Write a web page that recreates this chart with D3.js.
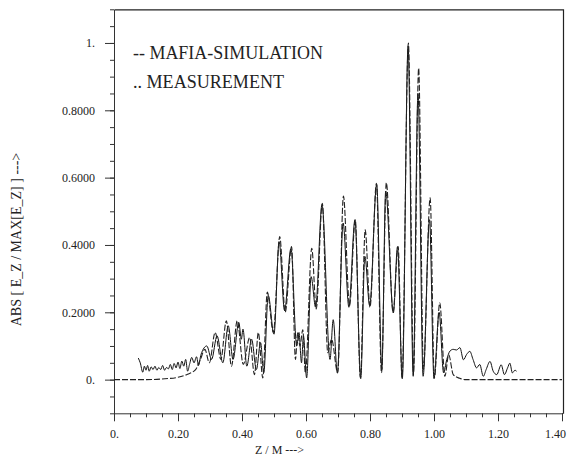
<!DOCTYPE html>
<html><head><meta charset="utf-8">
<script src="https://cdn.jsdelivr.net/npm/d3@7"></script>
<style>
html,body{margin:0;padding:0;background:#fff;}
svg{display:block;}
text{font-family:"Liberation Serif","Times New Roman",serif;fill:#222;}
</style></head>
<body><svg id="c" width="572" height="456"></svg>
<script>
// ---- data ----
const xMajor = [0, 0.2, 0.4, 0.6, 0.8, 1.0, 1.2, 1.4];
const xMajorLabels = ["0.", "0.20", "0.40", "0.60", "0.80", "1.00", "1.20", "1.40"];
const yMajor = [0, 0.2, 0.4, 0.6, 0.8, 1.0];
const yMajorLabels = ["0.", "0.2000", "0.4000", "0.6000", "0.8000", "1."];
const legendLabels = ["-- MAFIA-SIMULATION", ".. MEASUREMENT"];
const xTitle = "Z / M  --->";
const yTitle = "ABS [ E_Z / MAX[E_Z] ]  --->";

// simulation (dashed)
const simZ = [0, 0.10, 0.15, 0.20, 0.23, 0.255, 0.27, 0.284, 0.298, 0.316, 0.334, 0.351, 0.367, 0.385, 0.404, 0.424, 0.439, 0.451, 0.465,
  0.479, 0.498, 0.518, 0.535, 0.555, 0.567, 0.574, 0.581, 0.590, 0.598, 0.618, 0.632, 0.651, 0.668, 0.680, 0.699,
  0.717, 0.736, 0.754, 0.770, 0.785, 0.800, 0.820, 0.836, 0.851, 0.872, 0.888, 0.900, 0.920, 0.936, 0.952, 0.967,
  0.988, 1.001, 1.018, 1.034, 1.046, 1.060, 1.080, 1.100, 1.400];
const simV = [0, 0, 0.002, 0.007, 0.016, 0.03, 0.06, 0.09, 0.05, 0.14, 0.06, 0.175, 0.04, 0.175, 0.045, 0.125, 0.015, 0.14, 0.005,
  0.26, 0.14, 0.425, 0.2, 0.395, 0.06, 0.14, 0.1, 0.148, 0.02, 0.39, 0.21, 0.524, 0.08, 0.12, 0.02,
  0.545, 0.22, 0.475, 0.005, 0.445, 0.215, 0.583, 0.02, 0.585, 0.2, 0.395, 0.005, 1.0, 0.02, 0.925, 0.03,
  0.54, 0.005, 0.228, 0.01, 0.074, 0.015, 0.004, 0, 0];

// measurement (solid)
const measZ = [0.076, 0.082, 0.090, 0.095, 0.100, 0.105, 0.110, 0.116, 0.122, 0.128, 0.134, 0.140, 0.146, 0.152, 0.158, 0.164, 0.170,
  0.176, 0.182, 0.188, 0.194, 0.200, 0.206, 0.212, 0.218, 0.224, 0.230, 0.236, 0.243, 0.250, 0.258, 0.264, 0.272,
  0.290, 0.305, 0.322, 0.340, 0.357, 0.372, 0.390, 0.398, 0.403, 0.415, 0.430, 0.445, 0.458, 0.468,
  0.482, 0.500, 0.516, 0.533, 0.553, 0.571, 0.578, 0.586, 0.592, 0.602, 0.616, 0.630, 0.650, 0.675, 0.685, 0.698,
  0.716, 0.734, 0.753, 0.771, 0.784, 0.799, 0.821, 0.837, 0.849, 0.873, 0.886, 0.901, 0.919, 0.935, 0.950, 0.966,
  0.986, 1.000, 1.016, 1.030, 1.040, 1.050, 1.060, 1.070, 1.081, 1.092, 1.102, 1.112, 1.122, 1.133, 1.143, 1.154,
  1.163, 1.175, 1.185, 1.196, 1.210, 1.220, 1.230, 1.237, 1.245, 1.253, 1.258];
const measV = [0.064, 0.05, 0.022, 0.04, 0.028, 0.042, 0.025, 0.038, 0.03, 0.04, 0.028, 0.036, 0.03, 0.042, 0.028, 0.036, 0.032,
  0.045, 0.03, 0.048, 0.035, 0.052, 0.033, 0.055, 0.04, 0.06, 0.025, 0.045, 0.066, 0.05, 0.068, 0.042, 0.075,
  0.10, 0.06, 0.13, 0.05, 0.16, 0.06, 0.17, 0.12, 0.15, 0.04, 0.12, 0.03, 0.11, 0.02,
  0.25, 0.135, 0.41, 0.205, 0.39, 0.10, 0.14, 0.05, 0.13, 0.005, 0.306, 0.215, 0.52, 0.06, 0.178, 0.02,
  0.465, 0.215, 0.475, 0.003, 0.366, 0.22, 0.58, 0.03, 0.56, 0.198, 0.395, 0.003, 0.99, 0.01, 0.85, 0.01,
  0.475, 0.003, 0.2, 0.02, 0.06, 0.085, 0.09, 0.088, 0.095, 0.059, 0.075, 0.084, 0.06, 0.035, 0.045, 0.01,
  0.03, 0.054, 0.025, 0.015, 0.044, 0.015, 0.035, 0.049, 0.02, 0.028, 0.025];

// ---- chart ----
const svg = d3.select("#c");
const L = 114, R = 562, T = 9.3, B = 413.3;
const x = d3.scaleLinear().domain([0, 1.4]).range([L, R]);
const y = d3.scaleLinear().domain([-0.1, 1.1]).range([B, T]);
const minorX = d3.range(0, 1.4001, 0.05).map(v => +v.toFixed(2));
const minorY = d3.range(-0.1, 1.1001, 0.05).map(v => +v.toFixed(2));

// frame
svg.append("path")
  .attr("d", `M${L+0.5},${T+0.5}H${R+1.5}V${B+0.5}`)
  .attr("fill", "none").attr("stroke", "#222").attr("stroke-width", 1.2);

// y axis
const gyMinor = svg.append("g").attr("transform", `translate(${L},0)`)
  .call(d3.axisLeft(y).tickValues(minorY).tickSize(4).tickFormat(""));
gyMinor.select(".domain").remove();
const gy = svg.append("g").attr("transform", `translate(${L},0)`)
  .call(d3.axisLeft(y).tickValues(yMajor).tickSize(9).tickSizeOuter(0).tickPadding(10)
    .tickFormat((d, i) => yMajorLabels[i]));
gy.selectAll("text").attr("font-size", 12).attr("font-family", "Liberation Serif");

// x axis
const gxMinor = svg.append("g").attr("transform", `translate(0,${B})`)
  .call(d3.axisBottom(x).tickValues(minorX).tickSize(4).tickFormat(""));
gxMinor.select(".domain").remove();
const gx = svg.append("g").attr("transform", `translate(0,${B})`)
  .call(d3.axisBottom(x).tickValues(xMajor).tickSize(8).tickSizeOuter(0).tickPadding(8)
    .tickFormat((d, i) => xMajorLabels[i]));
gx.select(".domain").attr("d", `M${L},0.5H${R+1}`);
gx.selectAll("text").attr("font-size", 12).attr("font-family", "Liberation Serif");
gx.selectAll(".tick").filter((d, i) => i === xMajor.length - 1).select("text").attr("dx", -7);
svg.selectAll(".tick line, .domain").attr("stroke", "#333");

// curves
const clip = svg.append("clipPath").attr("id", "pc").append("rect")
  .attr("x", L).attr("y", T).attr("width", R - L).attr("height", B - T);
const line = d3.line().x(d => x(d[0])).y(d => y(d[1])).curve(d3.curveMonotoneX);
const sim = simZ.map((z, i) => [z, simV[i]]);
const meas = measZ.map((z, i) => [z, measV[i]]);
const pg = svg.append("g").attr("clip-path", "url(#pc)");
pg.append("path").datum(meas).attr("d", line)
  .attr("fill", "none").attr("stroke", "#111").attr("stroke-width", 1);
pg.append("path").datum(sim).attr("d", line)
  .attr("fill", "none").attr("stroke", "#222").attr("stroke-width", 1.1)
  .attr("stroke-dasharray", "6,2");

// legend
svg.selectAll(".leg").data(legendLabels).enter().append("text")
  .attr("x", 133).attr("y", (d, i) => 59 + i * 28.5)
  .attr("font-size", 19)
  .attr("textLength", (d, i) => i === 0 ? 190 : 151)
  .attr("lengthAdjust", "spacingAndGlyphs")
  .text(d => d);

// titles
svg.append("text").attr("x", 255).attr("y", 454).attr("font-size", 12).text(xTitle);
svg.append("text").attr("transform", "translate(20.5,239.5) rotate(-90)")
  .attr("text-anchor", "middle").attr("font-size", 14).text(yTitle);
</script></body></html>
